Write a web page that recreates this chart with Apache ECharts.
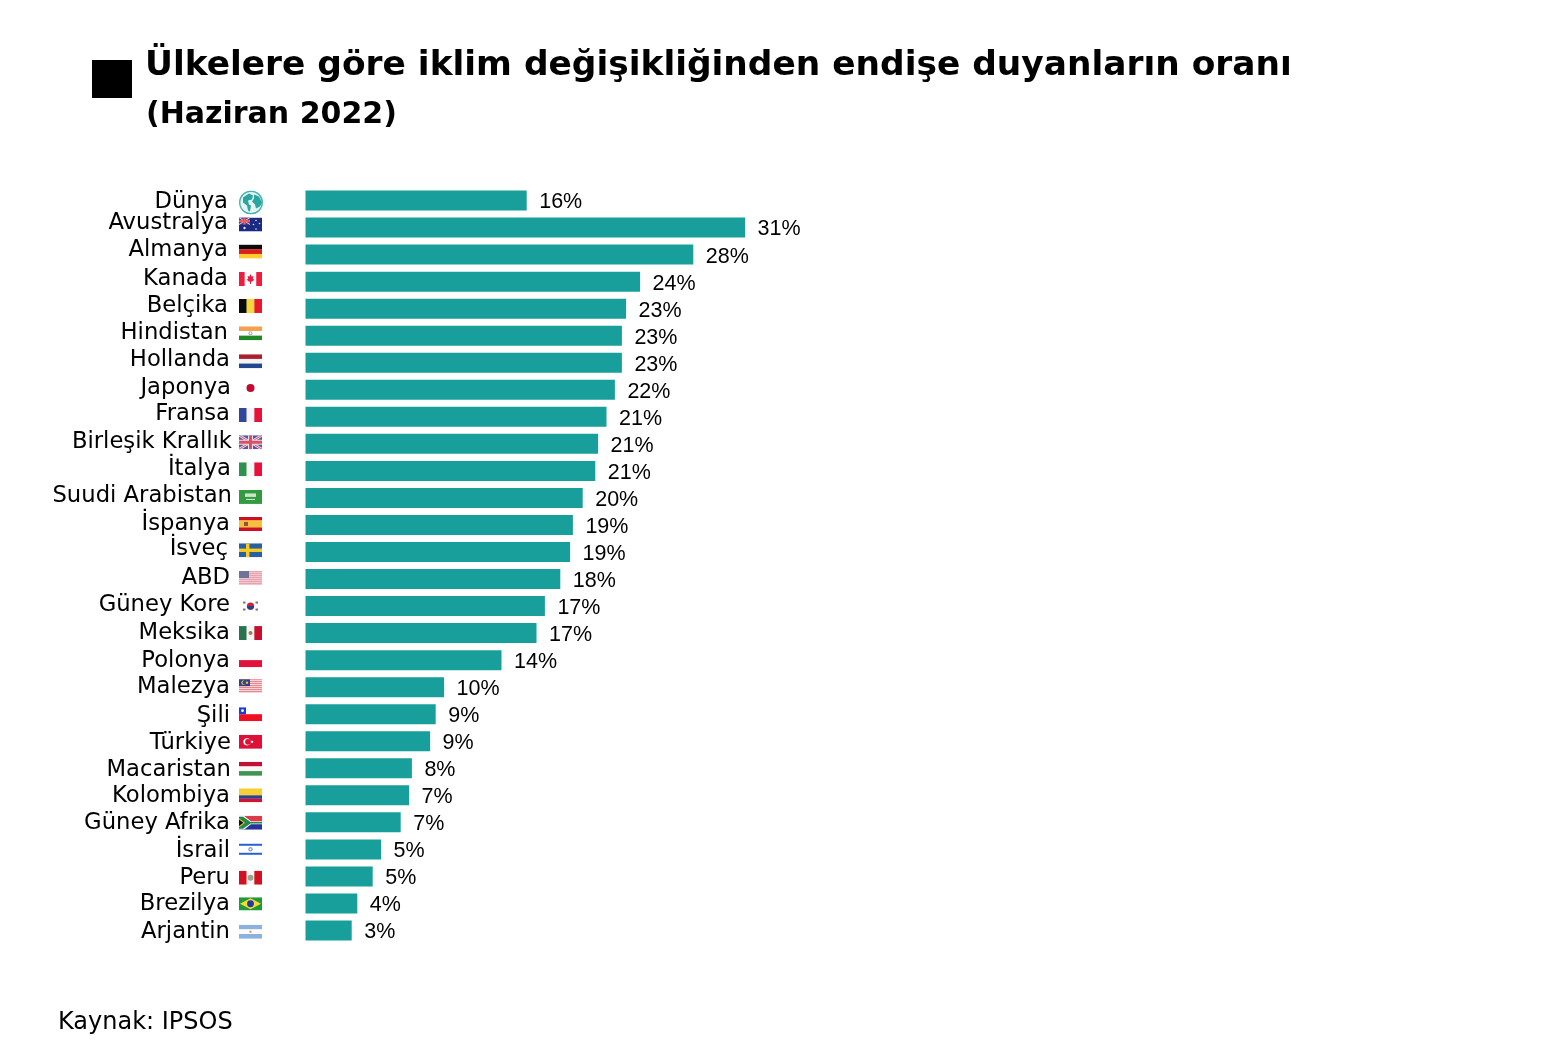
<!DOCTYPE html>
<html>
<head>
<meta charset="utf-8">
<title>Ülkelere göre iklim değişikliğinden endişe duyanların oranı</title>
<script src="https://cdn.jsdelivr.net/npm/echarts@6/dist/echarts.min.js"></script>
<style>
    html, body { margin: 0; padding: 0; background: #fff; }
    #chart { width: 1558px; height: 1064px; }
</style>
</head>
<body>
<div id="chart"></div>
<script>
var categories = ['Dünya', 'Avustralya', 'Almanya', 'Kanada', 'Belçika', 'Hindistan', 'Hollanda', 'Japonya', 'Fransa',
    'Birleşik Krallık', 'İtalya', 'Suudi Arabistan', 'İspanya', 'İsveç', 'ABD', 'Güney Kore', 'Meksika', 'Polonya',
    'Malezya', 'Şili', 'Türkiye', 'Macaristan', 'Kolombiya', 'Güney Afrika', 'İsrail', 'Peru', 'Brezilya', 'Arjantin'];
// bar lengths, the printed labels are rounded
var values = [15.8, 31.4, 27.7, 23.9, 22.9, 22.6, 22.6, 22.1, 21.5, 20.9, 20.7, 19.8, 19.1, 18.9, 18.2, 17.1, 16.5, 14.0,
    9.9, 9.3, 8.9, 7.6, 7.4, 6.8, 5.4, 4.8, 3.7, 3.3];
var valueLabels = ['16%', '31%', '28%', '24%', '23%', '23%', '23%', '22%', '21%', '21%', '21%', '20%', '19%', '19%',
    '18%', '17%', '17%', '14%', '10%', '9%', '9%', '8%', '7%', '7%', '5%', '5%', '4%', '3%'];

// the original labels and flags sit a little off the bars
var labelUp = [-0.5, 5.5, 5.5, 4.5, 4.5, 4.5, 4, 3, 4, 3, 3, 3, 2, 4, 2, 2, 1, 1, 2, 0, 0, 0, 1, 1, 0, 0, 1, 0];
var labelLeft = [4, 4, 4, 4, 4, 4, 2, 1, 2, 0, 1, 0, 2, 4, 2, 2, 2, 2, 2, 2, 1, 1, 2, 2, 2, 2, 2, 2];
var flagDown = [2, -3, -3, -2.6, -2.7, -2.4, -1.5, -1.8, -1.8, -1.6, -1.6, -1, -1, -1.7, -1, 0, 0, 0, -1, 0, 0.6, 0.5, 0, 0.4, 0.4, 1.3, 0.8, 1.2];

function rect(x, y, w, h, c) {
    return '<rect x="' + x + '" y="' + y + '" width="' + w + '" height="' + h + '" fill="' + c + '"/>';
}
function hStripes(colors) {
    var h = 14 / colors.length;
    return colors.map(function (c, i) { return rect(0, i * h, 23, h + 0.1, c); }).join('');
}
function vStripes(colors) {
    var w = 23 / colors.length;
    return colors.map(function (c, i) { return rect(i * w, 0, w + 0.1, 14, c); }).join('');
}
function circle(x, y, r, c) {
    return '<circle cx="' + x + '" cy="' + y + '" r="' + r + '" fill="' + c + '"/>';
}
function line(x1, y1, x2, y2, c, w) {
    return '<line x1="' + x1 + '" y1="' + y1 + '" x2="' + x2 + '" y2="' + y2 + '" stroke="' + c + '" stroke-width="' + w + '"/>';
}
function poly(points, c) {
    return '<polygon points="' + points + '" fill="' + c + '"/>';
}
function unionJack() {
    return rect(0, 0, 23, 14, '#4a5ca6') +
        line(0, 0, 23, 14, '#f4dfe4', 2.6) + line(23, 0, 0, 14, '#f4dfe4', 2.6) +
        line(0, 0, 23, 14, '#d8506a', 1) + line(23, 0, 0, 14, '#d8506a', 1) +
        rect(9, 0, 5, 14, '#f4dfe4') + rect(0, 4.5, 23, 5, '#f4dfe4') +
        rect(10, 0, 3, 14, '#d8506a') + rect(0, 5.5, 23, 3, '#d8506a');
}
function usStripes(a, b) {
    var s = rect(0, 0, 23, 14, b);
    for (var i = 0; i < 7; i++) s += rect(0, i * 2, 23, 1, a);
    return s;
}

var flags = [
    // Dünya
    circle(11.5, 7, 7, '#fff'),
    // Avustralya
    rect(0, 0, 23, 14, '#1c2b82') + rect(0, 0, 11, 7, '#5a3f7e') + line(0, 0, 11, 7, '#e3c6d0', 1) + line(11, 0, 0, 7, '#e3c6d0', 1) +
        rect(4.5, 0, 2, 7, '#e65c6c') + rect(0, 2.5, 11, 2, '#e65c6c') + circle(5.5, 10.5, 1.2, '#dfe2f3') +
        circle(17, 3, 0.8, '#dfe2f3') + circle(20.5, 6, 0.8, '#dfe2f3') + circle(14.5, 7, 0.8, '#dfe2f3') + circle(17, 11.5, 0.8, '#dfe2f3'),
    hStripes(['#0b0b0b', '#dd1c1c', '#fbcb2f']),
    // Kanada
    vStripes(['#ee1c3f', '#fff', '#fff', '#ee1c3f']) + poly('11.5,2 12.7,4.5 14.5,4 13.8,7 15.5,7.5 13,9.7 12,9.5 12,12 11,12 11,9.5 10,9.7 7.5,7.5 9.2,7 8.5,4 10.3,4.5', '#ee1c3f'),
    vStripes(['#0b0b0b', '#f6d735', '#e8182c']),
    // Hindistan
    hStripes(['#f4a04c', '#fff', '#1f8a25']) + circle(11.5, 7, 2, '#a9a9d0') + circle(11.5, 7, 1, '#fff'),
    hStripes(['#ad1f2c', '#f3f3f3', '#22468f']),
    // Japonya
    rect(0, 0, 23, 14, '#fff') + circle(11.5, 7, 4, '#c2092f'),
    vStripes(['#2f4899', '#f4f4fa', '#e6123c']),
    unionJack(),
    // İtalya
    vStripes(['#2f914f', '#f6f6f6', '#e6123c']),
    // Suudi Arabistan
    rect(0, 0, 23, 14, '#329a3f') + rect(6, 3.5, 11, 3.5, '#c9e5cc') + rect(7, 9, 9, 1, '#d9eddb'),
    // İspanya
    hStripes(['#cd0f25', '#f7c136', '#f7c136', '#cd0f25']) + rect(5, 5, 4, 4, '#98503a'),
    // İsveç
    rect(0, 0, 23, 14, '#27619f') + rect(7, 0, 3.4, 14, '#f6cb25') + rect(0, 5.3, 23, 3.4, '#f6cb25'),
    // ABD
    usStripes('#e8a3ad', '#f0c8ce') + rect(0, 0, 10, 7, '#6d7399'),
    // Güney Kore
    rect(0, 0, 23, 14, '#fff') + circle(11.5, 7, 3.6, '#d81e3c') + '<path d="M7.9 7a3.6 3.6 0 0 0 7.2 0z" fill="#27408f"/>' +
        rect(4, 2.5, 2.5, 2, '#777') + rect(16.5, 2.5, 2.5, 2, '#777') + rect(4, 9.5, 2.5, 2, '#777') + rect(16.5, 9.5, 2.5, 2, '#777'),
    vStripes(['#2a734f', '#f4f4f4', '#c8102e']) + circle(11.5, 7, 2, '#a5804a'),
    // Polonya
    hStripes(['#fff', '#e3123d']),
    // Malezya
    usStripes('#e8737d', '#fbe9e9') + rect(0, 0, 11, 7, '#2d3f8f') + circle(4.5, 3.5, 2.2, '#f6cb25') + circle(5.3, 3.5, 1.8, '#2d3f8f') + circle(8, 3.5, 1.2, '#f6cb25'),
    // Şili
    rect(0, 0, 23, 7, '#fff') + rect(0, 7, 23, 7, '#f01024') + rect(0, 0, 7, 7, '#1a3fd8') + circle(3.5, 3.5, 1.4, '#fff'),
    // Türkiye
    rect(0, 0, 23, 14, '#dd1038') + circle(8, 7, 3.6, '#fff') + circle(9, 7, 2.9, '#dd1038') + circle(13, 7, 1.2, '#fff'),
    hStripes(['#c10f35', '#f6f6f6', '#3f9550']),
    // Kolombiya
    rect(0, 0, 23, 7, '#f8cf30') + rect(0, 7, 23, 3.5, '#2c3f95') + rect(0, 10.5, 23, 3.5, '#d2132e'),
    // Güney Afrika
    rect(0, 0, 23, 7, '#dd3a4a') + rect(0, 7, 23, 7, '#27339a') + poly('0,0 5,0 12,5.5 23,5.5 23,8.5 12,8.5 5,14 0,14', '#f2f2f2') +
        poly('0,1 4,1 11.5,6.3 23,6.3 23,7.7 11.5,7.7 4,13 0,13', '#1f8a4c') + poly('0,2.5 6,7 0,11.5', '#f6c22c') + poly('0,3.8 4.4,7 0,10.2', '#111'),
    // İsrail
    rect(0, 0, 23, 14, '#fff') + rect(0, 1, 23, 2, '#2a60d0') + rect(0, 10, 23, 2, '#2a60d0') + circle(11.5, 6.5, 2.2, '#7da0e0') + circle(11.5, 6.5, 1, '#eef'),
    vStripes(['#d2101f', '#f8f8f8', '#d2101f']) + circle(11.5, 7, 3, '#9aa58a'),
    // Brezilya
    rect(0, 0, 23, 13, '#1e9a3c') + poly('11.5,1 22,6.5 11.5,12 1,6.5', '#f7dc2d') + circle(11.5, 6.5, 3.4, '#2438a8'),
    // Arjantin
    hStripes(['#8bb1de', '#fbfbfb', '#8bb1de']) + circle(11.5, 7, 1.2, '#eda83a')
];

function flagImage(body) {
    return 'data:image/svg+xml;charset=utf-8,' + encodeURIComponent(
        '<svg xmlns="http://www.w3.org/2000/svg" width="92" height="56" viewBox="0 0 23 14">' + body + '</svg>');
}
var globe = 'data:image/svg+xml;charset=utf-8,' + encodeURIComponent(
    '<svg xmlns="http://www.w3.org/2000/svg" width="96" height="96" viewBox="0 0 24 24">' +
    circle(12, 12, 12, '#45b3ae') + circle(12, 12, 10.6, '#e3f4f3') +
    '<path d="M4 7l6-4 4 2-1 4-4 1 1 4 2 1-1 6-2-1-1-5-4-3z" fill="#2aa6a1"/>' +
    '<path d="M15 4l5 2 3 6-2 4-4 2-1-4-3-3 2-3z" fill="#2aa6a1"/></svg>');

var myChart = echarts.init(document.getElementById('chart'));

var option = {
    backgroundColor: '#fff',
    animation: false,
    title: [
        {
            text: 'Ülkelere göre iklim değişikliğinden endişe duyanların oranı',
            left: 145, top: 49, padding: 0,
            textStyle: { fontFamily: 'DejaVu Sans', fontWeight: 'bold', fontSize: 34.4, color: '#000' }
        },
        {
            text: '(Haziran 2022)',
            left: 146, top: 100, padding: 0,
            textStyle: { fontFamily: 'DejaVu Sans', fontWeight: 'bold', fontSize: 30, color: '#000' }
        },
        {
            text: 'Kaynak: IPSOS',
            left: 58, top: 1011, padding: 0,
            textStyle: { fontFamily: 'DejaVu Sans', fontWeight: 'normal', fontSize: 24, color: '#000' }
        }
    ],
    graphic: [{
        type: 'rect',
        shape: { x: 92, y: 60, width: 40, height: 38 },
        style: { fill: '#000' }
    }],
    grid: { left: 305.5, top: 187, width: 840, height: 757 },
    xAxis: { type: 'value', min: 0, max: 60, show: false },
    yAxis: {
        type: 'category',
        inverse: true,
        data: categories,
        axisLine: { show: false },
        axisTick: { show: false },
        splitLine: { show: false },
        axisLabel: { show: false }
    },
    series: [
        {
            type: 'bar',
            data: values,
            barWidth: 20,
            itemStyle: { color: '#199f9b' },
            label: {
                show: true,
                position: 'right',
                distance: 12.5,
                offset: [0, 2],
                fontFamily: 'Liberation Sans',
                fontSize: 21.5,
                color: '#000',
                formatter: function (p) { return valueLabels[p.dataIndex]; }
            }
        },
        {
            // country name and flag for every row, hung on the axis scale
            type: 'custom',
            silent: true,
            data: categories.map(function (name, i) { return [0, i]; }),
            encode: { x: 0, y: 1 },
            renderItem: function (params, api) {
                var i = api.value(1);
                var c = api.coord([0, i]);
                var isGlobe = i === 0;
                var w = isGlobe ? 24 : 23, h = isGlobe ? 24 : 14;
                return {
                    type: 'group',
                    children: [
                        {
                            type: 'image',
                            style: {
                                image: isGlobe ? globe : flagImage(flags[i]),
                                x: c[0] - 66.5,
                                y: c[1] + flagDown[i] - h / 2,
                                width: w,
                                height: h
                            }
                        },
                        {
                            type: 'text',
                            style: {
                                text: categories[i],
                                x: c[0] - 73.5 - labelLeft[i],
                                y: c[1] - labelUp[i] + 1.5,
                                align: 'right',
                                verticalAlign: 'middle',
                                fontFamily: 'DejaVu Sans',
                                fontSize: 22.7,
                                fill: '#000'
                            }
                        }
                    ]
                };
            }
        }
    ]
};

myChart.setOption(option);
</script>
</body>
</html>
